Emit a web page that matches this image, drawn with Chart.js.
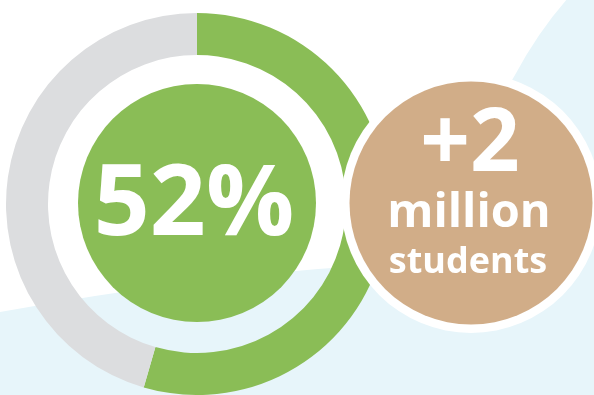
<!DOCTYPE html>
<html>
<head>
<meta charset="utf-8">
<script src="https://cdn.jsdelivr.net/npm/chart.js@4/dist/chart.umd.min.js"></script>
<style>
  html, body { margin: 0; padding: 0; background: #ffffff; }
  #wrap { position: relative; width: 594px; height: 395px; }
</style>
</head>
<body>
<div id="wrap"><canvas id="c" width="594" height="395"></canvas></div>
<script>
// ---- data ----
const categories = ["Share", "Rest"];
const shareValues = [54.5, 45.5];
const mainLabel = "52%";
const badgeLines = ["+2", "million", "students"];

// ---- colours ----
const GREEN = "#8abd56";
const GREY = "#dcdddf";
const TAN = "#d1ad88";
const BLUE_BG = "#e7f5fa";

const decor = {
  id: "decor",
  beforeDraw(chart) {
    const ctx = chart.ctx;
    ctx.save();
    ctx.fillStyle = "#ffffff";
    ctx.fillRect(0, 0, chart.width, chart.height);
    ctx.fillStyle = BLUE_BG;
    ctx.beginPath();
    ctx.moveTo(0, 312);
    ctx.quadraticCurveTo(200, 276, 360, 266);
    ctx.lineTo(440, 250);
    ctx.lineTo(500, 100);
    ctx.lineTo(515, 75);
    ctx.quadraticCurveTo(538, 32, 568, -2);
    ctx.lineTo(600, -2);
    ctx.lineTo(600, 400);
    ctx.lineTo(0, 400);
    ctx.closePath();
    ctx.fill();
    ctx.restore();
  },
  afterDraw(chart) {
    const ctx = chart.ctx;
    const arc = chart.getDatasetMeta(0).data[0];
    const cx = arc.x, cy = arc.y;
    ctx.save();
    // inner green disc
    ctx.fillStyle = GREEN;
    ctx.beginPath();
    ctx.arc(cx, cy - 1, 119, 0, Math.PI * 2);
    ctx.fill();
    ctx.fillStyle = "#ffffff";
    ctx.textAlign = "center";
    ctx.textBaseline = "alphabetic";
    ctx.font = "bold 98px 'Open Sans'";
    ctx.fillText(mainLabel, cx - 3, 235);

    // tan badge with white border
    const bx = 471, by = 203;
    ctx.fillStyle = "#ffffff";
    ctx.beginPath();
    ctx.arc(bx, by, 130, 0, Math.PI * 2);
    ctx.fill();
    ctx.fillStyle = TAN;
    ctx.beginPath();
    ctx.arc(bx, by, 121.5, 0, Math.PI * 2);
    ctx.fill();
    ctx.fillStyle = "#ffffff";
    ctx.font = "bold 87px 'Open Sans'";
    ctx.fillText(badgeLines[0], 470, 171);
    ctx.font = "bold 47px 'Open Sans'";
    ctx.fillText(badgeLines[1], 469, 227);
    ctx.font = "bold 36px 'Open Sans'";
    ctx.fillText(badgeLines[2], 468, 273);
    ctx.restore();
  }
};

new Chart(document.getElementById("c"), {
  type: "doughnut",
  data: {
    labels: categories,
    datasets: [{
      data: shareValues,
      backgroundColor: [GREEN, GREY],
      borderWidth: 0
    }]
  },
  options: {
    responsive: false,
    animation: false,
    cutout: 149,
    layout: { padding: { left: 6, top: 13, right: 206, bottom: 0 } },
    plugins: { legend: { display: false }, tooltip: { enabled: false } },
    events: []
  },
  plugins: [decor]
});
</script>
</body>
</html>
